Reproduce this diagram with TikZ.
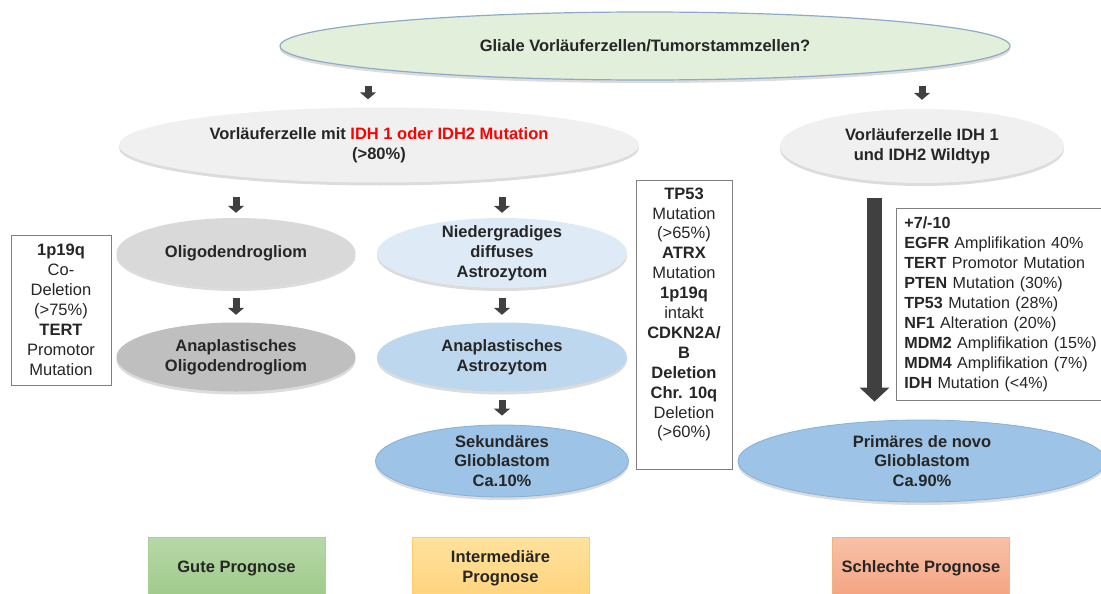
\documentclass[tikz,border=0pt]{standalone}
\usepackage{fontspec}
\setmainfont{Liberation Sans}
\usetikzlibrary{arrows.meta,shapes.geometric,shadows}
\definecolor{txt}{HTML}{262626}
\definecolor{arrgray}{HTML}{404040}
\definecolor{topfill}{HTML}{E2EFDA}
\definecolor{topdraw}{HTML}{8EAAC8}
\definecolor{g1}{HTML}{F0F0F0}
\definecolor{g2}{HTML}{D9D9D9}
\definecolor{g3}{HTML}{BFBFBF}
\definecolor{b1}{HTML}{DEEBF7}
\definecolor{b2}{HTML}{BDD7EE}
\definecolor{b3}{HTML}{9DC3E6}
\definecolor{b3d}{HTML}{86B0D9}
\definecolor{boxdraw}{HTML}{7F7F7F}
\definecolor{redtxt}{HTML}{FF0000}
\definecolor{gtop}{HTML}{B7D8A9}
\definecolor{gbot}{HTML}{9ECA89}
\definecolor{gdraw}{HTML}{A9D08E}
\definecolor{ytop}{HTML}{FFE29C}
\definecolor{ybot}{HTML}{FFD37E}
\definecolor{ydraw}{HTML}{FFCC66}
\definecolor{rtop}{HTML}{F8C1A8}
\definecolor{rbot}{HTML}{F4A380}
\definecolor{rdraw}{HTML}{F4B183}
\newcommand\fs{\fontsize{16.5}{19.9}\selectfont}
\newcommand\fsr{\fontsize{16.1}{19.9}\selectfont}
\begin{document}
\begin{tikzpicture}[x=1pt,y=-1pt,
  ell/.style={ellipse, inner xsep=0pt, inner ysep=-20pt, align=center,
    font=\fs\bfseries, text=txt,
    drop shadow={shadow xshift=0pt, shadow yshift=-3pt, opacity=0.28}},
  infobox/.style={rectangle, draw=boxdraw, line width=0.8pt, fill=white,
    font=\fs, text=txt, inner sep=0pt},
  prog/.style={rectangle, minimum width=177pt, minimum height=62pt,
    align=center, font=\fs\bfseries, text=txt, line width=0.8pt},
  smallarr/.style={draw=arrgray, line width=7pt, -{Triangle[width=16pt,length=7pt]}},
  bigarr/.style={draw=arrgray, line width=15pt, -{Triangle[width=29pt,length=14pt]}}
]
\useasboundingbox (0,0) rectangle (1101,594);

% ellipses
\node[ell, fill=topfill, draw=topdraw, line width=1.2pt,
  minimum width=730pt, minimum height=68pt] (top) at (645,46)
  {Gliale Vorläuferzellen/Tumorstammzellen?};
\node[ell, fill=g1, minimum width=520pt, minimum height=75pt] (v1) at (379,145)
  {Vorläuferzelle mit \textcolor{redtxt}{IDH 1 oder IDH2 Mutation}\\(>80\%)};
\node[ell, fill=g1, minimum width=284pt, minimum height=74pt] (v2) at (922,146)
  {Vorläuferzelle IDH 1\\und IDH2 Wildtyp};
\node[ell, fill=g2, minimum width=239pt, minimum height=70pt] (oligo) at (236,253)
  {Oligodendrogliom};
\node[ell, fill=g3, minimum width=239pt, minimum height=69pt] (anaoligo) at (236,357)
  {Anaplastisches\\Oligodendrogliom};
\node[ell, fill=b1, minimum width=250pt, minimum height=70pt] (nied) at (502,253)
  {Niedergradiges\\diffuses\\Astrozytom};
\node[ell, fill=b2, minimum width=250pt, minimum height=69pt] (anaastro) at (502,357)
  {Anaplastisches\\Astrozytom};
\node[ell, fill=b3, draw=b3d, line width=0.8pt, minimum width=253pt, minimum height=72pt] (sek) at (502,461)
  {Sekundäres\\Glioblastom\\Ca.10\%};
\node[ell, fill=b3, draw=b3d, line width=0.8pt, minimum width=368pt, minimum height=82pt] (prim) at (922,461)
  {Primäres de novo\\Glioblastom\\Ca.90\%};

% info boxes
\node[infobox, minimum width=100pt, minimum height=150pt, align=center] (lbox) at (61,310)
  {\textbf{1p19q}\\Co-\\Deletion\\(>75\%)\\\textbf{TERT}\\Promotor\\Mutation};
\node[infobox, minimum width=96pt, minimum height=289pt] (mbox) at (684,324.5) {};
\node[font=\fs, text=txt, align=center, inner sep=0pt] (mtext) at (684,314.5)
  {\textbf{TP53}\\Mutation\\(>65\%)\\\textbf{ATRX}\\Mutation\\\textbf{1p19q}\\intakt\\
   \textbf{CDKN2A/}\\\textbf{B}\\\textbf{Deletion}\\\textbf{Chr. 10q}\\Deletion\\(>60\%)};
\node[infobox, font=\fsr, anchor=north west, minimum width=240pt, minimum height=192pt,
  inner xsep=8pt, text width=224pt, align=left] (rbox) at (896,208)
  {\textbf{+7/-10}\\
   \textbf{EGFR} Amplifikation 40\%\\
   \textbf{TERT} Promotor Mutation\\
   \textbf{PTEN} Mutation (30\%)\\
   \textbf{TP53} Mutation (28\%)\\
   \textbf{NF1} Alteration (20\%)\\
   \textbf{MDM2} Amplifikation (15\%)\\
   \textbf{MDM4} Amplifikation (7\%)\\
   \textbf{IDH} Mutation (<4\%)};

% prognosis boxes
\node[prog, top color=gtop, bottom color=gbot, draw=gdraw] (gute) at (236.5,568) {Gute Prognose};
\node[prog, top color=ytop, bottom color=ybot, draw=ydraw] (inter) at (500.5,568) {Intermediäre\\Prognose};
\node[prog, top color=rtop, bottom color=rbot, draw=rdraw] (schlecht) at (921,568) {Schlechte Prognose};

% arrows
\draw[smallarr, shorten <=5pt, shorten >=8pt, transform canvas={xshift=-11pt}]
  (v1.north |- top.south) -- (v1.north);
\draw[smallarr, shorten <=5pt, shorten >=9pt] (v2.north |- top.south) -- (v2.north);
\draw[smallarr, shorten <=14.5pt, shorten >=5pt] (oligo.north |- v1.south) -- (oligo.north);
\draw[smallarr, shorten <=14.5pt, shorten >=5pt] (nied.north |- v1.south) -- (nied.north);
\draw[smallarr, shorten <=10pt, shorten >=7.5pt] (oligo.south) -- (anaoligo.north);
\draw[smallarr, shorten <=10pt, shorten >=7.5pt] (nied.south) -- (anaastro.north);
\draw[smallarr, shorten <=8.5pt, shorten >=9pt] (anaastro.south) -- (sek.north);
\draw[bigarr, shorten <=15pt, shorten >=18pt, transform canvas={xshift=-47.5pt}]
  (v2.south) -- (prim.north);
\end{tikzpicture}
\end{document}
